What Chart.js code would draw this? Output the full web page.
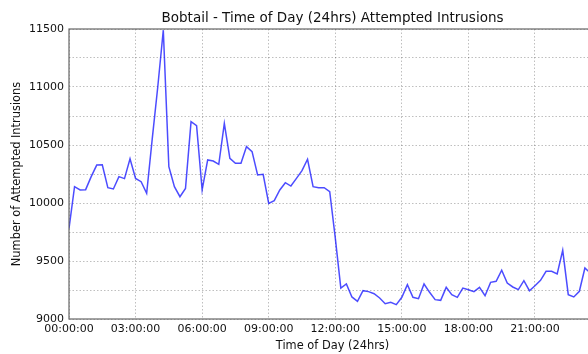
<!DOCTYPE html>
<html>
<head>
<meta charset="utf-8">
<script src="https://cdn.jsdelivr.net/npm/chart.js@4.4.1/dist/chart.umd.min.js"></script>
<style>
  html, body { margin: 0; padding: 0; background: #fff; overflow: hidden; }
  #wrap { width: 600px; height: 354px; position: relative; }
</style>
</head>
<body>
<div id="wrap"><canvas id="grafico"></canvas></div>
<script>
const titulo = 'Bobtail - Time of Day (24hrs) Attempted Intrusions';
const tituloX = 'Time of Day (24hrs)';
const tituloY = 'Number of Attempted Intrusions';

// rótulos do eixo x (a cada 3 horas)
const rotulosHora = ['00:00:00', '03:00:00', '06:00:00', '09:00:00', '12:00:00', '15:00:00', '18:00:00', '21:00:00'];

// tentativas por intervalo de 15 minutos, 00:00 até 23:45
const tentativas = [
  9780, 10141, 10112, 10115, 10227, 10327, 10330, 10132,
  10121, 10227, 10210, 10382, 10212, 10184, 10083, 10550,
  11000, 11490, 10313, 10141, 10054, 10126, 10701, 10667,
  10112, 10371, 10362, 10333, 10687, 10385, 10342, 10342,
  10486, 10443, 10241, 10247, 9997, 10020, 10112, 10175,
  10146, 10212, 10279, 10377, 10141, 10132, 10132, 10098,
  9700, 9267, 9302, 9190, 9152, 9244, 9236, 9218,
  9181, 9132, 9144, 9124, 9187, 9296, 9187, 9175,
  9302, 9230, 9167, 9161, 9273, 9210, 9187, 9267,
  9252, 9236, 9273, 9201, 9316, 9325, 9420, 9310,
  9276, 9253, 9330, 9244, 9287, 9333, 9411, 9411,
  9388, 9592, 9210, 9190, 9239, 9440, 9395, 9410
];

const minutosPorIntervalo = 15;
const pontos = tentativas.map((v, i) => ({ x: i * minutosPorIntervalo / 60, y: v }));

const fonte = 'DejaVu Sans';

const moldura = {
  id: 'moldura',
  afterDraw(chart) {
    const { ctx, chartArea: a } = chart;
    ctx.save();
    ctx.strokeStyle = '#666';
    ctx.lineWidth = 1.2;
    ctx.strokeRect(a.left, a.top, a.right - a.left, a.bottom - a.top);
    ctx.restore();
  }
};

new Chart(document.getElementById('grafico').getContext('2d'), {
  type: 'line',
  data: {
    datasets: [{
      data: pontos,
      borderColor: 'rgba(0,0,255,0.7)',
      borderWidth: 1.5,
      pointRadius: 0,
      tension: 0,
      fill: false,
    }],
  },
  options: {
    responsive: true,
    maintainAspectRatio: false,
    animation: false,
    layout: { padding: { left: 0, right: 4, top: 0, bottom: 0 } },
    plugins: {
      legend: { display: false },
      tooltip: { enabled: false },
      title: {
        display: true,
        text: titulo,
        fullSize: false,
        color: '#111',
        font: { family: fonte, size: 13.5, weight: 'normal' },
        padding: { top: 10, bottom: 2.8 },
      },
    },
    scales: {
      x: {
        type: 'linear',
        min: 0,
        max: 23.75,
        afterFit: s => { s.height = 35; },
        grid: { color: 'rgba(0,0,0,0.25)', lineWidth: 1, drawTicks: false },
        border: { display: false, dash: [1.5, 2] },
        ticks: {
          stepSize: 3,
          includeBounds: false,
          autoSkip: false,
          maxRotation: 0,
          padding: 4,
          color: '#111',
          font: { family: fonte, size: 11 },
          callback: v => (v % 3 === 0 ? rotulosHora[v / 3] : ''),
        },
        title: {
          display: true,
          text: tituloX,
          color: '#111',
          font: { family: fonte, size: 11.4 },
          padding: { top: 0, bottom: 1 },
        },
      },
      y: {
        min: 9000,
        max: 11500,
        afterFit: s => { s.width = 69; },
        grid: { color: 'rgba(0,0,0,0.25)', lineWidth: 1, drawTicks: false },
        border: { display: false, dash: [1.5, 2] },
        ticks: {
          stepSize: 250,
          padding: 5,
          color: '#111',
          font: { family: fonte, size: 11 },
          callback: v => (v % 500 === 0 ? String(v) : ''),
        },
        title: {
          display: true,
          text: tituloY,
          color: '#111',
          font: { family: fonte, size: 11.4 },
          padding: { top: 10.4, bottom: 0 },
        },
      },
    },
  },
  plugins: [moldura],
});
</script>
</body>
</html>
